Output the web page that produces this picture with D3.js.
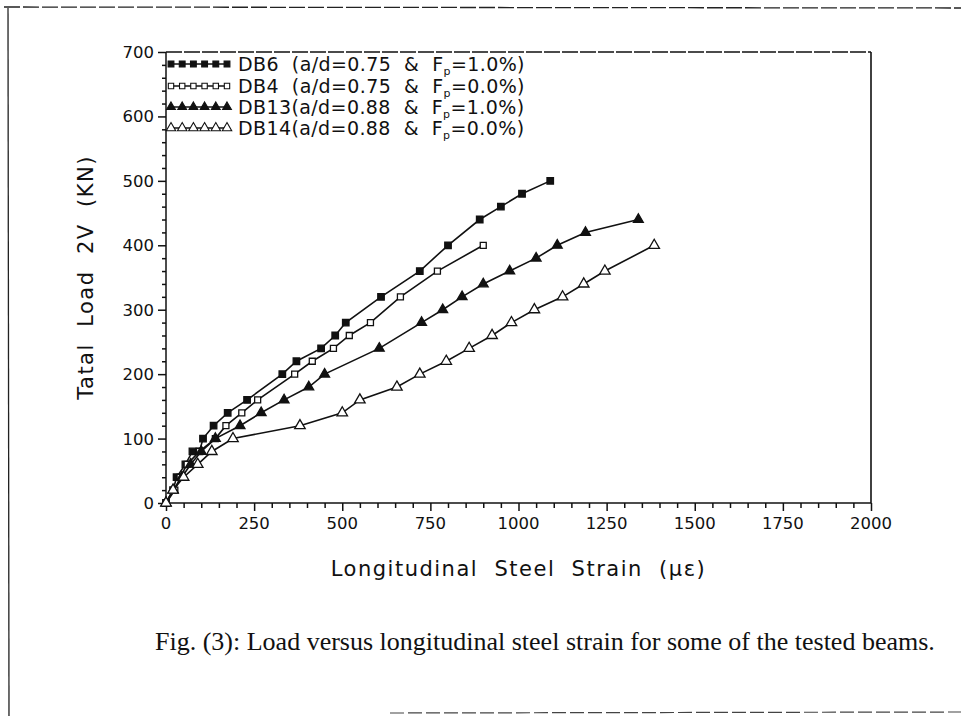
<!DOCTYPE html>
<meta charset="utf-8" />
<style>
  body { margin: 0; background: #fff; }
  svg { display: block; }
  .lbl { font-family: "DejaVu Sans", sans-serif; fill: #111; }
  .caption { font-family: "Liberation Serif", serif; font-size: 26px; fill: #111; }
</style>
<svg width="961" height="716"></svg>
<script src="https://d3js.org/d3.v7.min.js"></script>
<script>
  // strain (micro-strain) / load (kN)
  var db6 = [[0,0],[20,20],[30,40],[55,60],[75,80],[95,80],[105,100],[135,120],[175,140],[230,160],[330,200],[370,220],[440,240],[480,260],[510,280],[610,320],[720,360],[800,400],[890,440],[950,460],[1010,480],[1090,500]];
  var db4 = [[0,0],[25,20],[40,40],[60,60],[95,80],[140,100],[170,120],[215,140],[260,160],[365,200],[415,220],[475,240],[520,260],[580,280],[665,320],[770,360],[900,400]];
  var db13 = [[0,0],[20,20],[45,40],[70,60],[100,80],[140,100],[210,120],[270,140],[335,160],[405,180],[450,200],[605,240],[725,280],[785,300],[840,320],[900,340],[975,360],[1050,380],[1110,400],[1190,420],[1340,440]];
  var db14 = [[0,0],[20,20],[50,40],[90,60],[130,80],[190,100],[380,120],[500,140],[550,160],[655,180],[720,200],[795,220],[860,240],[925,260],[980,280],[1045,300],[1125,320],[1185,340],[1245,360],[1385,400]];

  var seriesNames = ["DB6", "DB4", "DB13", "DB14"];
  var seriesAd = ["0.75", "0.75", "0.88", "0.88"];
  var seriesFp = ["1.0%", "0.0%", "1.0%", "0.0%"];
  var xTicks = [0, 250, 500, 750, 1000, 1250, 1500, 1750, 2000];
  var yTicks = [0, 100, 200, 300, 400, 500, 600, 700];

  var svg = d3.select("svg");

  var x = d3.scaleLinear().domain([0, 2000]).range([166, 871]);
  var y = d3.scaleLinear().domain([0, 700]).range([503, 52]);

  var series = [
    { data: db6, shape: d3.symbolSquare, filled: true, size: 42 },
    { data: db4, shape: d3.symbolSquare, filled: false, size: 36 },
    { data: db13, shape: d3.symbolTriangle, filled: true, size: 42 },
    { data: db14, shape: d3.symbolTriangle, filled: false, size: 48 }
  ];

  // page frame (scanned look)
  svg.append("line").attr("x1", 4).attr("x2", 961).attr("y1", 7).attr("y2", 8)
    .attr("stroke", "#222").attr("stroke-width", 1.3).attr("stroke-dasharray", "16,3");
  svg.append("line").attr("x1", 8).attr("x2", 9).attr("y1", 8).attr("y2", 716)
    .attr("stroke", "#222").attr("stroke-width", 1.3);
  svg.append("line").attr("x1", 390).attr("x2", 961).attr("y1", 713).attr("y2", 712)
    .attr("stroke", "#444").attr("stroke-width", 1.2).attr("stroke-dasharray", "14,4");

  // axes
  var xAxis = d3.axisBottom(x).tickValues(d3.range(0, 2001, 50)).tickSize(5).tickFormat("");
  var gx = svg.append("g").attr("transform", "translate(0," + y(0) + ")").call(xAxis);
  gx.selectAll(".tick line").filter(function (d) { return d % 250 === 0; }).attr("y2", 8);
  gx.selectAll("line, path").attr("stroke", "#111").attr("stroke-width", 1.5);
  gx.select(".domain").attr("d", "M" + x(0) + ",0H" + x(2000));

  var yAxis = d3.axisLeft(y).tickValues(d3.range(0, 701, 20)).tickSize(4).tickFormat("");
  var gy = svg.append("g").attr("transform", "translate(" + x(0) + ",0)").call(yAxis);
  gy.selectAll(".tick line").filter(function (d) { return d % 100 === 0; }).attr("x2", -8);
  gy.selectAll("line, path").attr("stroke", "#111").attr("stroke-width", 1.5);
  gy.select(".domain").attr("d", "M0," + y(0) + "V" + y(700));

  // box top and right
  svg.append("line").attr("x1", x(0)).attr("x2", x(2000)).attr("y1", y(700)).attr("y2", y(700))
    .attr("stroke", "#111").attr("stroke-width", 1.6).attr("stroke-dasharray", "16,2");
  svg.append("line").attr("x1", x(2000)).attr("x2", x(2000)).attr("y1", y(700)).attr("y2", y(0))
    .attr("stroke", "#111").attr("stroke-width", 1.6);

  svg.selectAll(".xl").data(xTicks).enter().append("text")
    .attr("class", "lbl").attr("x", function (d) { return x(d); }).attr("y", 529)
    .attr("text-anchor", "middle").style("font-size", "16.5px").text(function (d) { return d; });
  svg.selectAll(".yl").data(yTicks).enter().append("text")
    .attr("class", "lbl").attr("x", 154).attr("y", function (d) { return y(d) + 6; })
    .attr("text-anchor", "end").style("font-size", "16.5px").text(function (d) { return d; });

  svg.append("text").attr("class", "lbl").attr("x", (x(0) + x(2000)) / 2).attr("y", 576)
    .attr("text-anchor", "middle").style("font-size", "21px").style("letter-spacing", "1.5px")
    .style("white-space", "pre").text("Longitudinal  Steel  Strain  (\u03bc\u03b5)");
  svg.append("text").attr("class", "lbl")
    .attr("transform", "translate(93," + (y(350)) + ") rotate(-90)")
    .attr("text-anchor", "middle").style("font-size", "21px").style("letter-spacing", "1.5px")
    .style("white-space", "pre").text("Tatal  Load  2V  (KN)");

  // series
  var line = d3.line().x(function (d) { return x(d[0]); }).y(function (d) { return y(d[1]); });
  series.forEach(function (s) {
    svg.append("path").datum(s.data).attr("d", line)
      .attr("fill", "none").attr("stroke", "#111").attr("stroke-width", 1.6);
    svg.selectAll(null).data(s.data).enter().append("path")
      .attr("transform", function (d) { return "translate(" + x(d[0]) + "," + y(d[1]) + ")"; })
      .attr("d", d3.symbol().type(s.shape).size(s.size))
      .attr("fill", s.filled ? "#111" : "#fff").attr("stroke", "#111").attr("stroke-width", 1.3);
  });

  // legend
  var legendY = [64, 86, 107, 128];
  series.forEach(function (s, i) {
    var ly = legendY[i];
    svg.append("line").attr("x1", 170).attr("x2", 227).attr("y1", ly).attr("y2", ly)
      .attr("stroke", "#111").attr("stroke-width", 1.6);
    svg.selectAll(null).data(d3.range(6)).enter().append("path")
      .attr("transform", function (k) { return "translate(" + (171 + k * 11.2) + "," + ly + ")"; })
      .attr("d", d3.symbol().type(s.shape).size(s.size * 0.8))
      .attr("fill", s.filled ? "#111" : "#fff").attr("stroke", "#111").attr("stroke-width", 1.1);
    var t = svg.append("text").attr("class", "lbl").attr("x", 238).attr("y", ly + 7)
      .style("font-size", "19px").style("letter-spacing", "0.4px").style("white-space", "pre");
    var nm = seriesNames[i];
    t.append("tspan").text(nm.length === 3 ? nm + "  (" : nm + "(");
    t.append("tspan").text("a/d=" + seriesAd[i] + "  &  F");
    t.append("tspan").attr("dy", 4).style("font-size", "11px").text("p");
    t.append("tspan").attr("dy", -4).text("=" + seriesFp[i] + ")");
  });

  svg.append("text").attr("class", "caption").attr("x", 155).attr("y", 650)
    .text("Fig. (3): Load versus longitudinal steel strain for some of the tested beams.");
</script>
